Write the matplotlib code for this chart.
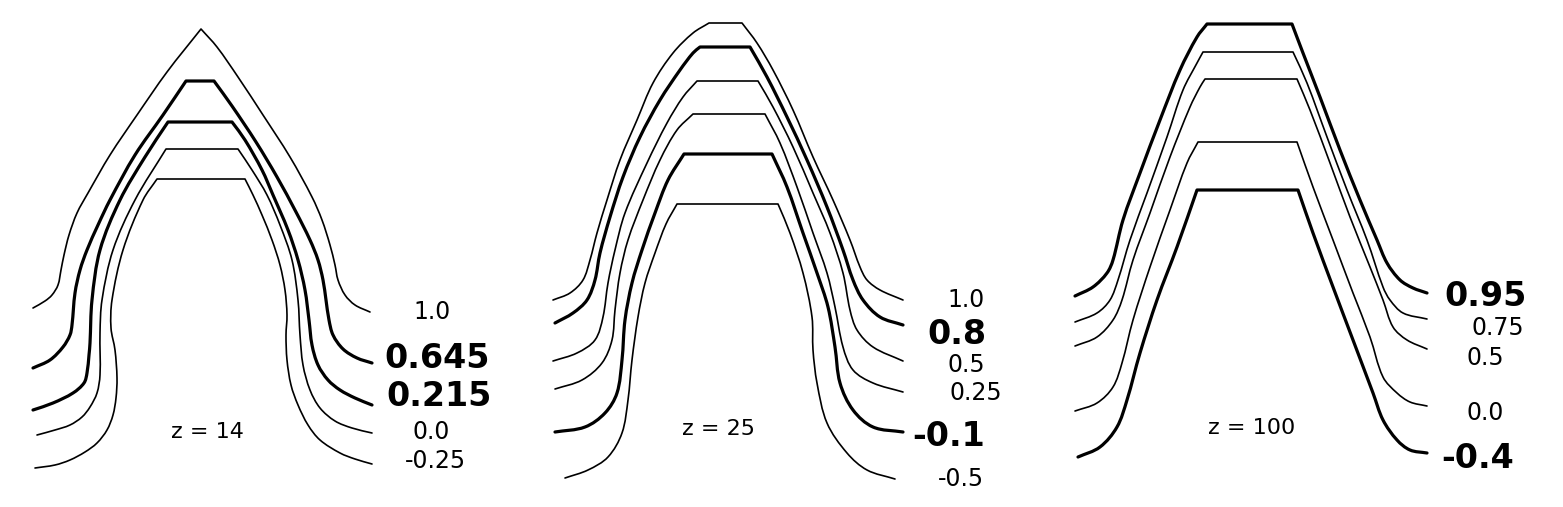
import math
import matplotlib.pyplot as plt
from matplotlib.path import Path
from matplotlib.patches import PathPatch

# contour lines, in pixel units of the 1563x507 image
# panel z = 14
z14_100 = [(33, 308), (45, 301), (52, 295), (58, 285), (61, 270), (64, 255), (69, 235), (77, 213),
           (88, 193), (110, 155), (137, 115), (167, 72), (201, 29), (217, 47), (238, 77), (263, 115),
           (290, 157), (312, 197), (322, 220), (330, 245), (335, 265), (338, 280), (345, 295),
           (355, 305), (370, 312)]
z14_0645 = [(33, 368), (50, 360), (63, 347), (70, 335), (72, 325), (75, 293), (80, 270), (87, 250),
            (98, 225), (110, 200), (135, 155), (163, 115), (186, 81), (214, 81), (232, 106),
            (256, 142), (277, 177), (296, 212), (310, 240), (318, 260), (323, 280), (326, 300),
            (329, 320), (333, 335), (343, 349), (357, 358), (372, 363)]
z14_0215 = [(33, 410), (53, 403), (73, 393), (84, 383), (87, 373), (89, 355), (90, 343), (92, 300),
            (100, 250), (120, 200), (145, 157), (168, 122), (232, 122), (245, 140), (262, 170),
            (273, 195), (288, 230), (298, 260), (305, 290), (309, 320), (312, 345), (318, 365),
            (328, 380), (340, 390), (355, 398), (372, 405)]
z14_000 = [(37, 435), (55, 430), (70, 425), (82, 417), (90, 407), (97, 393), (100, 375), (100, 333),
           (102, 300), (113, 250), (135, 200), (166, 149), (238, 149), (252, 170), (267, 195),
           (280, 225), (292, 260), (298, 300), (300, 335), (303, 365), (310, 390), (320, 408),
           (335, 421), (352, 428), (372, 433)]
z14_m025 = [(35, 468), (55, 465), (70, 460), (85, 452), (97, 443), (107, 430), (113, 415), (116, 398),
            (117, 378), (115, 350), (111, 328), (112, 300), (123, 250), (143, 200), (157, 179),
            (245, 179), (253, 195), (262, 215), (272, 240), (280, 265), (285, 290), (287, 315),
            (286, 335), (287, 360), (291, 385), (298, 405), (308, 425), (320, 440), (340, 453),
            (355, 459), (372, 464)]

# panel z = 25
z25_100 = [(553, 300), (570, 293), (583, 280), (590, 260), (597, 233), (607, 200), (620, 160),
           (637, 120), (653, 83), (673, 53), (693, 33), (709, 23), (742, 23), (757, 43), (773, 70),
           (793, 110), (813, 157), (833, 200), (850, 240), (860, 267), (867, 280), (880, 290),
           (903, 300)]
z25_080 = [(555, 323), (573, 313), (587, 300), (595, 280), (600, 253), (610, 217), (623, 177),
           (640, 137), (660, 100), (680, 70), (693, 53), (700, 47), (750, 47), (767, 77), (787, 117),
           (807, 160), (827, 207), (843, 250), (853, 280), (863, 300), (880, 317), (903, 325)]
z25_050 = [(553, 361), (577, 353), (595, 340), (603, 317), (608, 283), (615, 250), (625, 213),
           (647, 163), (667, 123), (683, 97), (697, 81), (758, 81), (773, 107), (793, 147),
           (813, 193), (830, 233), (843, 273), (850, 310), (857, 330), (873, 347), (903, 361)]
z25_025 = [(555, 389), (582, 380), (602, 363), (612, 340), (615, 310), (620, 273), (628, 240),
           (643, 200), (660, 160), (677, 130), (693, 114), (765, 114), (780, 143), (797, 187),
           (813, 233), (827, 273), (835, 307), (843, 347), (853, 370), (873, 383), (903, 392)]
z25_m010 = [(555, 432), (585, 427), (605, 413), (617, 393), (622, 360), (625, 320), (632, 283),
            (642, 250), (655, 213), (668, 180), (684, 154), (772, 154), (787, 187), (803, 233),
            (817, 273), (828, 307), (835, 347), (840, 383), (853, 410), (873, 427), (903, 432)]
z25_m050 = [(565, 478), (588, 470), (608, 457), (622, 433), (628, 400), (632, 360), (638, 317),
            (645, 283), (655, 253), (666, 224), (677, 204), (778, 204), (790, 233), (803, 273),
            (812, 317), (813, 350), (817, 383), (827, 423), (847, 453), (867, 470), (895, 479)]

# panel z = 100
z100_095 = [(1075, 296), (1093, 287), (1107, 273), (1113, 260), (1123, 220), (1140, 173), (1160, 120),
            (1180, 70), (1197, 37), (1207, 24), (1292, 24), (1303, 53), (1320, 97), (1340, 150),
            (1360, 200), (1377, 240), (1387, 263), (1400, 280), (1413, 288), (1427, 293)]
z100_075 = [(1075, 322), (1097, 313), (1110, 300), (1118, 280), (1130, 240), (1147, 193), (1167, 137),
            (1183, 90), (1197, 63), (1203, 52), (1293, 52), (1307, 83), (1327, 137), (1347, 190),
            (1367, 240), (1383, 287), (1390, 300), (1403, 313), (1427, 319)]
z100_050 = [(1075, 346), (1097, 337), (1113, 320), (1122, 300), (1133, 260), (1150, 213), (1170, 157),
            (1190, 107), (1200, 87), (1205, 79), (1297, 79), (1310, 110), (1330, 163), (1350, 217),
            (1370, 267), (1383, 300), (1393, 327), (1407, 340), (1427, 349)]
z100_000 = [(1075, 411), (1097, 403), (1113, 387), (1122, 363), (1133, 320), (1150, 267), (1170, 210),
            (1187, 163), (1198, 142), (1297, 142), (1313, 187), (1333, 240), (1353, 293), (1370, 337),
            (1383, 377), (1397, 393), (1410, 402), (1427, 406)]
z100_m040 = [(1078, 457), (1100, 447), (1117, 427), (1127, 400), (1140, 353), (1157, 300), (1177, 247),
             (1197, 190), (1298, 190), (1313, 233), (1333, 287), (1353, 340), (1373, 393), (1383, 420),
             (1397, 440), (1410, 450), (1427, 453)]

z14_curves = [z14_100, z14_0645, z14_0215, z14_000, z14_m025]
z14_labels = ["1.0", "0.645", "0.215", "0.0", "-0.25"]
z14_bold = [False, True, True, False, False]
z14_label_pos = [(432, 312), (437, 358), (439, 397), (431, 432), (435, 461)]

z25_curves = [z25_100, z25_080, z25_050, z25_025, z25_m010, z25_m050]
z25_labels = ["1.0", "0.8", "0.5", "0.25", "-0.1", "-0.5"]
z25_bold = [False, True, False, False, True, False]
z25_label_pos = [(966, 300), (957, 335), (966, 365), (976, 393), (949, 436), (961, 479)]

z100_curves = [z100_095, z100_075, z100_050, z100_000, z100_m040]
z100_labels = ["0.95", "0.75", "0.5", "0.0", "-0.4"]
z100_bold = [True, False, False, False, True]
z100_label_pos = [(1486, 296), (1498, 328), (1485, 358), (1485, 413), (1478, 459)]

z_titles = ["z = 14", "z = 25", "z = 100"]
z_title_pos = [(207, 432), (718, 429), (1252, 428)]


def unit(dx, dy):
    d = math.hypot(dx, dy) or 1.0
    return dx / d, dy / d


def bezier_piece(pts):
    # smooth run through the points; handle length follows the segment length
    n = len(pts)
    tang = []
    for i in range(n):
        a = pts[max(i - 1, 0)]
        b = pts[min(i + 1, n - 1)]
        tang.append(unit(b[0] - a[0], b[1] - a[1]))
    verts, codes = [], []
    for i in range(n - 1):
        p1, p2 = pts[i], pts[i + 1]
        L = math.hypot(p2[0] - p1[0], p2[1] - p1[1]) / 3
        c1 = (p1[0] + tang[i][0] * L, p1[1] + tang[i][1] * L)
        c2 = (p2[0] - tang[i + 1][0] * L, p2[1] - tang[i + 1][1] * L)
        verts += [c1, c2, p2]
        codes += [Path.CURVE4] * 3
    return verts, codes


def contour_path(pts):
    # keep the corners of the flat top (or the apex) sharp
    ys = [p[1] for p in pts]
    top = ys.index(min(ys))
    if top + 1 < len(pts) and abs(pts[top + 1][1] - pts[top][1]) < 2:
        pieces = [pts[:top + 1], pts[top:top + 2], pts[top + 1:]]
    else:
        pieces = [pts[:top + 1], pts[top:]]
    verts, codes = [pts[0]], [Path.MOVETO]
    for piece in pieces:
        v, c = bezier_piece(piece)
        verts += v
        codes += c
    return Path(verts, codes)


fig = plt.figure(figsize=(15.63, 5.07), dpi=100)
ax = fig.add_axes([0, 0, 1, 1])
ax.set_xlim(0, 1563)
ax.set_ylim(507, 0)
ax.axis("off")

panels = [(z14_curves, z14_labels, z14_bold, z14_label_pos),
          (z25_curves, z25_labels, z25_bold, z25_label_pos),
          (z100_curves, z100_labels, z100_bold, z100_label_pos)]

for curves, labels, bold, lpos in panels:
    for pts, lab, b, (lx, ly) in zip(curves, labels, bold, lpos):
        ax.add_patch(PathPatch(contour_path(pts), fill=False, edgecolor="black",
                               lw=2.3 if b else 1.2, joinstyle="round", capstyle="round"))
        if b:
            ax.text(lx, ly, lab, ha="center", va="center", fontsize=24,
                    fontweight="bold", family="DejaVu Sans")
        else:
            ax.text(lx, ly, lab, ha="center", va="center", fontsize=17,
                    family="DejaVu Sans")

for t, (tx, ty) in zip(z_titles, z_title_pos):
    ax.text(tx, ty, t, ha="center", va="center", fontsize=16, family="DejaVu Sans")

fig.savefig("out.png", dpi=100)
